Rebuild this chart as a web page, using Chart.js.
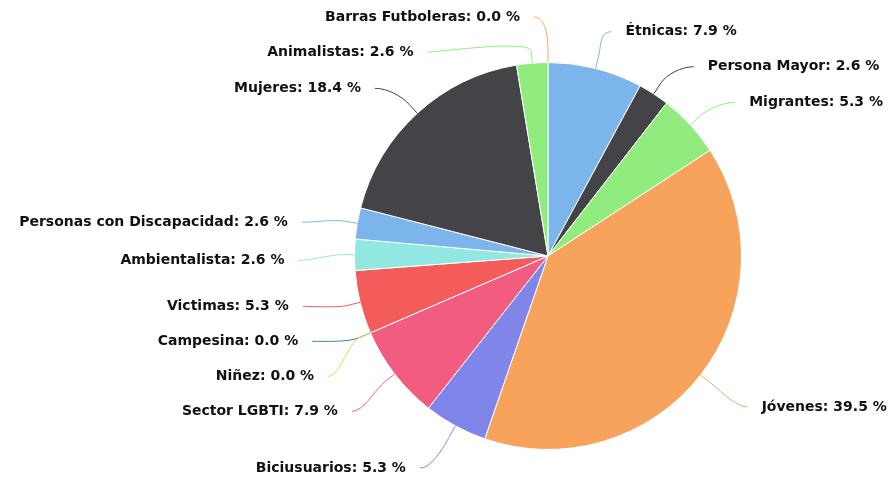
<!DOCTYPE html>
<html>
<head>
<meta charset="utf-8">
<script src="https://cdn.jsdelivr.net/npm/chart.js@4/dist/chart.umd.min.js"></script>
<style>
  html, body { margin: 0; padding: 0; background: #fff; }
</style>
</head>
<body>
<canvas id="pieChart" width="891" height="478"></canvas>
<script>
// slices, clockwise from 12 o'clock
var categories = ['Étnicas', 'Persona Mayor', 'Migrantes', 'Jóvenes', 'Biciusuarios', 'Sector LGBTI',
  'Niñez', 'Campesina', 'Victimas', 'Ambientalista', 'Personas con Discapacidad', 'Mujeres',
  'Animalistas', 'Barras Futboleras'];
var shares = [7.9, 2.6, 5.3, 39.5, 5.3, 7.9, 0.0, 0.0, 5.3, 2.6, 2.6, 18.4, 2.6, 0.0];
var sliceColors = ['#7cb5ec', '#434348', '#90ed7d', '#f7a35c', '#8085e9', '#f15c80', '#e4d354',
  '#2b908f', '#f45b5b', '#91e8e1', '#7cb5ec', '#434348', '#90ed7d', '#f7a35c'];

// push overlapping labels apart, groups centred on their ideal positions
function spread(items, gap, minY, maxY) {
  var groups = items.map(function (it) { return { items: [it] }; });
  function place(g) {
    var sum = 0;
    g.items.forEach(function (it) { sum += it.ideal; });
    var n = g.items.length;
    var top = sum / n - (n - 1) * gap / 2;
    g.top = Math.max(minY, Math.min(maxY - (n - 1) * gap, top));
  }
  groups.forEach(place);
  var i = 0;
  while (i < groups.length - 1) {
    var a = groups[i], b = groups[i + 1];
    if (a.top + a.items.length * gap > b.top) {
      a.items = a.items.concat(b.items);
      groups.splice(i + 1, 1);
      place(a);
      i = 0;
    } else {
      i++;
    }
  }
  groups.forEach(function (g) {
    g.items.forEach(function (it, k) { it.y = g.top + k * gap; });
  });
}

var pieLabels = {
  id: 'pieLabels',
  afterDraw: function (chart) {
    var ctx = chart.ctx;
    var arcs = chart.getDatasetMeta(0).data;
    var left = [], right = [];
    arcs.forEach(function (arc, i) {
      var mid = (arc.startAngle + arc.endAngle) / 2;
      var fromTop = mid + Math.PI / 2;
      var R = arc.outerRadius + 42;
      var it = {
        i: i, arc: arc, mid: mid, R: R, cy: arc.y + 6,
        ideal: arc.y + 6 + R * Math.sin(mid),
        left: fromTop >= Math.PI - 1e-9
      };
      (it.left ? left : right).push(it);
    });
    left.sort(function (a, b) { return a.ideal - b.ideal || b.i - a.i; });
    right.sort(function (a, b) { return a.ideal - b.ideal || a.i - b.i; });
    spread(left, 35, 17, 468);
    spread(right, 35, 17, 468);

    ctx.save();
    ctx.font = 'bold 14px "DejaVu Sans", Verdana, sans-serif';
    ctx.textBaseline = 'middle';
    left.concat(right).forEach(function (it) {
      var arc = it.arc, r = arc.outerRadius, dir = it.left ? -1 : 1;
      var dy = it.y - it.cy;
      var edgeX = arc.x + dir * (Math.sqrt(Math.max(0, it.R * it.R - dy * dy)) + 28);
      var endX = edgeX - dir * 14;
      var cos = Math.cos(it.mid), sin = Math.sin(it.mid);
      // connector
      ctx.strokeStyle = sliceColors[it.i];
      ctx.lineWidth = 1;
      ctx.beginPath();
      ctx.moveTo(endX, it.y);
      ctx.bezierCurveTo(endX - dir * 12, it.y,
        arc.x + (r + 24) * cos, arc.y + (r + 24) * sin,
        arc.x + (r + 12) * cos, arc.y + (r + 12) * sin);
      ctx.lineTo(arc.x + r * cos, arc.y + r * sin);
      ctx.stroke();
      // text
      ctx.fillStyle = '#111111';
      ctx.textAlign = it.left ? 'right' : 'left';
      ctx.fillText(categories[it.i] + ': ' + shares[it.i].toFixed(1) + ' %', edgeX, it.y);
    });
    ctx.restore();
  }
};

new Chart(document.getElementById('pieChart'), {
  type: 'pie',
  data: {
    labels: categories,
    datasets: [{
      data: shares,
      backgroundColor: sliceColors,
      borderColor: '#ffffff',
      borderWidth: 1
    }]
  },
  options: {
    responsive: false,
    animation: false,
    layout: { padding: { left: 354, right: 149, top: 62, bottom: 28 } },
    plugins: {
      legend: { display: false },
      tooltip: { enabled: false }
    }
  },
  plugins: [pieLabels]
});
</script>
</body>
</html>
